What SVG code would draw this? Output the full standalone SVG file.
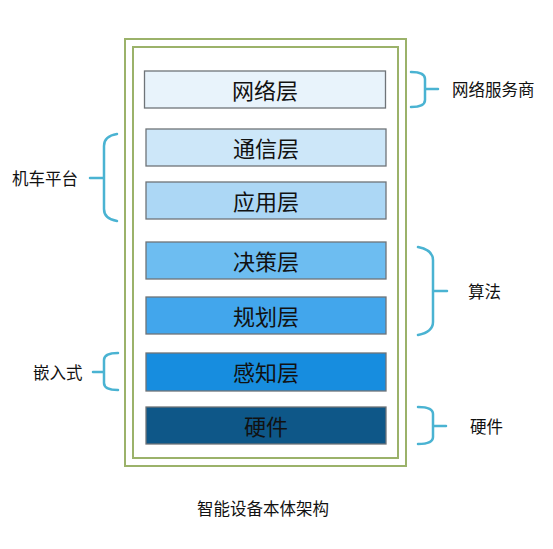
<svg xmlns="http://www.w3.org/2000/svg" width="553" height="549" viewBox="0 0 553 549">
<style>
.frame{fill:none;stroke:#9bb26a;stroke-width:2}
.layer{stroke:#6f7478;stroke-width:1.3}
.lt{font-family:"Noto Sans CJK SC","Noto Sans",sans-serif;font-size:22px;text-anchor:middle;dominant-baseline:central;fill:#111}
.side{font-family:"Noto Sans CJK SC","Noto Sans",sans-serif;font-size:16.5px;dominant-baseline:central;fill:#111}
.brace{fill:none;stroke:#4ab3d2;stroke-width:2.5;stroke-linecap:round}
</style>
<rect width="553" height="549" fill="#fff"/>
<g id="frame">
<rect class="frame" x="125" y="39" width="281" height="427"/>
<rect class="frame" x="133" y="47" width="265" height="411"/>
</g>
<g id="n-network"><rect class="layer" x="144.5" y="71" width="241" height="37" fill="#e8f3fb"/><text class="lt" x="265" y="88.5">网络层</text></g>
<g id="n-comm"><rect class="layer" x="146" y="129" width="240" height="37" fill="#cde7f9"/><text class="lt" x="266" y="146.5">通信层</text></g>
<g id="n-app"><rect class="layer" x="146" y="182" width="240" height="37" fill="#acd7f5"/><text class="lt" x="266" y="199.5">应用层</text></g>
<g id="n-decision"><rect class="layer" x="146" y="242" width="240" height="37" fill="#6dbdf1"/><text class="lt" x="266" y="259.5">决策层</text></g>
<g id="n-plan"><rect class="layer" x="146" y="297" width="240" height="37" fill="#42a6ec"/><text class="lt" x="266" y="314.5">规划层</text></g>
<g id="n-percept"><rect class="layer" x="146" y="353" width="240" height="38" fill="#178ddf"/><text class="lt" x="266" y="371">感知层</text></g>
<g id="n-hw"><rect class="layer" x="146" y="407" width="240" height="37" fill="#0e5788"/><text class="lt" x="266" y="424.5">硬件</text></g>
<g id="connectors">
<path class="brace" d="M411 72 Q425 72 425 79 V100 Q425 107 411 107 M425 89 H438"/>
<path class="brace" d="M117 134 Q104 136 104 146 V209 Q104 219 117 221 M90 178 H104"/>
<path class="brace" d="M418 247 Q433 250 433 260 V322 Q433 332 418 335 M433 291 H447"/>
<path class="brace" d="M118 353 Q104 353 104 360 V383 Q104 390 118 390 M93 372 H104"/>
<path class="brace" d="M418 407 Q433 407 433 414 V437 Q433 444 418 444 M433 426 H446"/>
</g>
<g id="labels">
<text class="side" x="452" y="89">网络服务商</text>
<text class="side" x="12" y="178">机车平台</text>
<text class="side" x="468" y="291">算法</text>
<text class="side" x="33" y="372">嵌入式</text>
<text class="side" x="470" y="426">硬件</text>
<text class="side" x="197" y="508">智能设备本体架构</text>
</g>
</svg>
